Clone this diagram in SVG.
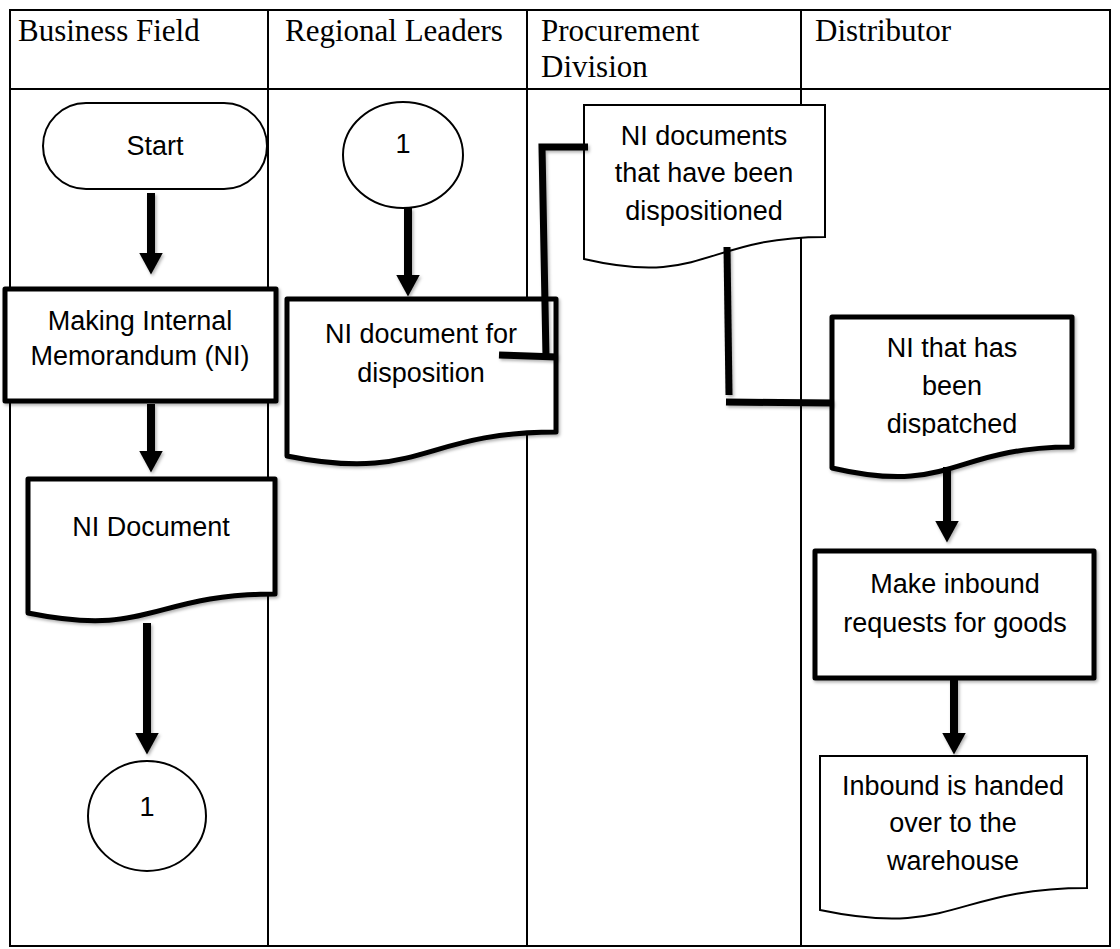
<svg xmlns="http://www.w3.org/2000/svg" width="1120" height="949" viewBox="0 0 1120 949">
<style>
.grid{stroke:#000;stroke-width:2;fill:none}
.hdr{font-family:"Liberation Serif","Times New Roman",serif;font-size:31px;fill:#000}
.lbl{font-family:"Liberation Sans",Arial,sans-serif;font-size:27px;fill:#000;text-anchor:middle}
.thin{fill:#fff;stroke:#000;stroke-width:2}
.thick{fill:#fff;stroke:#000;stroke-width:5;stroke-linejoin:round}
.arrow{stroke:#000;stroke-width:8;fill:none;marker-end:url(#ah)}
.elbow{stroke:#000;stroke-width:7;fill:none;stroke-linejoin:miter}
.shadow{filter:url(#sh)}
</style>
<defs>
<marker id="ah" viewBox="0 0 22 24" refX="0.5" refY="12" markerWidth="22" markerHeight="24" markerUnits="userSpaceOnUse" orient="auto">
<path d="M0,0 L22,12 L0,24 Z" fill="#000"/>
</marker>
<filter id="sh" x="-20%" y="-20%" width="140%" height="140%">
<feDropShadow dx="1.5" dy="2" stdDeviation="1.5" flood-color="#000" flood-opacity="0.3"/>
</filter>
<clipPath id="clipDisp"><rect x="832" y="317" width="240" height="119"/></clipPath>
</defs>
<rect width="1120" height="949" fill="#fff"/>
<g id="table">
<rect class="grid" x="10" y="10" width="1100" height="936"/>
<line class="grid" x1="10" y1="89" x2="1110" y2="89"/>
<line class="grid" x1="268" y1="10" x2="268" y2="946"/>
<line class="grid" x1="527" y1="10" x2="527" y2="946"/>
<line class="grid" x1="801" y1="10" x2="801" y2="946"/>
<text class="hdr" x="18" y="41">Business Field</text>
<text class="hdr" x="285" y="41">Regional Leaders</text>
<text class="hdr" x="541" y="41">Procurement</text>
<text class="hdr" x="541" y="77">Division</text>
<text class="hdr" x="815" y="41">Distributor</text>
</g>
<g id="start">
<rect class="thin" x="43" y="103" width="224" height="86" rx="43" ry="43"/>
<text class="lbl" x="155" y="155">Start</text>
</g>
<g id="making-ni">
<rect class="thick shadow" x="5" y="289" width="271" height="112"/>
<text class="lbl" x="140" y="330">Making Internal</text>
<text class="lbl" x="140" y="365">Memorandum (NI)</text>
</g>
<g id="ni-document">
<path class="thick shadow" d="M28,479 H275 V594 C151.5,594 151.5,638 28,613 Z"/>
<text class="lbl" x="151" y="536">NI Document</text>
</g>
<g id="connector-1-bottom">
<ellipse class="thin" cx="147" cy="816" rx="59" ry="55"/>
<text class="lbl" x="147" y="816">1</text>
</g>
<g id="connector-1-top">
<ellipse class="thin" cx="403" cy="155" rx="60" ry="53"/>
<text class="lbl" x="403" y="153">1</text>
</g>
<g id="ni-doc-disposition">
<path class="thick shadow" d="M287,299 H556 V432 C421.5,432 421.5,483 287,456 Z"/>
<text class="lbl" x="421" y="343">NI document for</text>
<text class="lbl" x="421" y="382">disposition</text>
</g>
<g id="ni-docs-dispositioned">
<path class="thin" d="M584,105 H825 V237 C704.5,237 704.5,287 584,259 Z"/>
<text class="lbl" x="704" y="145">NI documents</text>
<text class="lbl" x="704" y="182">that have been</text>
<text class="lbl" x="704" y="220">dispositioned</text>
</g>
<g id="ni-dispatched">
<path class="thick shadow" d="M832,317 H1072 V447 C952,447 952,496 832,468 Z"/>
<g clip-path="url(#clipDisp)">
<text class="lbl" x="952" y="357">NI that has</text>
<text class="lbl" x="952" y="395">been</text>
<text class="lbl" x="952" y="433">dispatched</text>
</g>
</g>
<g id="make-inbound">
<rect class="thick shadow" x="815" y="551" width="279" height="127"/>
<text class="lbl" x="955" y="593">Make inbound</text>
<text class="lbl" x="955" y="632">requests for goods</text>
</g>
<g id="inbound-handed">
<path class="thin" d="M820,756 H1087 V888 C953.5,888 953.5,938 820,910 Z"/>
<text class="lbl" x="953" y="795">Inbound is handed</text>
<text class="lbl" x="953" y="832">over to the</text>
<text class="lbl" x="953" y="870">warehouse</text>
</g>
<g id="connectors" class="shadow">
<line class="arrow" x1="151" y1="193" x2="151" y2="253"/>
<line class="arrow" x1="151" y1="404" x2="151" y2="451"/>
<line class="arrow" x1="147" y1="623" x2="147" y2="733"/>
<line class="arrow" x1="408" y1="208" x2="408" y2="275"/>
<line class="arrow" x1="947" y1="467" x2="947" y2="521"/>
<line class="arrow" x1="954" y1="680" x2="954" y2="733"/>
<polyline class="elbow" points="588,147 542,147 546,357"/>
<line class="elbow" x1="499" y1="355" x2="557" y2="357"/>
<line class="elbow" x1="727" y1="247" x2="729" y2="395"/>
<line class="elbow" x1="726" y1="402" x2="833" y2="403"/>
</g>
</svg>
